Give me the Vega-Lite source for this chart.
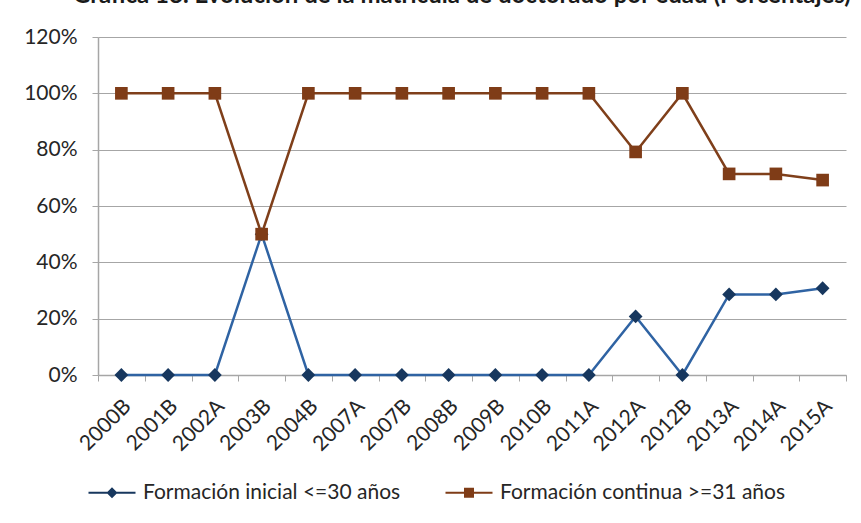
{
  "$schema": "https://vega.github.io/schema/vega-lite/v6.json",
  "width": 748,
  "height": 338,
  "padding": {"left": 98, "top": 37, "right": 15, "bottom": 148},
  "autosize": {"type": "none"},
  "background": "white",
  "title": {
    "text": "Gráfica 18. Evolución de la matrícula de doctorado por edad (Porcentajes)",
    "font": "Lato",
    "fontSize": 24,
    "fontWeight": "bold",
    "color": "#1a1a1a",
    "anchor": "middle",
    "offset": 0,
    "dy": -18,
    "dx": -10
  },
  "data": {
    "values": [
      {"periodo": "2000B", "serie": "Formación inicial <=30 años", "valor": 0},
      {"periodo": "2001B", "serie": "Formación inicial <=30 años", "valor": 0},
      {"periodo": "2002A", "serie": "Formación inicial <=30 años", "valor": 0},
      {"periodo": "2003B", "serie": "Formación inicial <=30 años", "valor": 0.5},
      {"periodo": "2004B", "serie": "Formación inicial <=30 años", "valor": 0},
      {"periodo": "2007A", "serie": "Formación inicial <=30 años", "valor": 0},
      {"periodo": "2007B", "serie": "Formación inicial <=30 años", "valor": 0},
      {"periodo": "2008B", "serie": "Formación inicial <=30 años", "valor": 0},
      {"periodo": "2009B", "serie": "Formación inicial <=30 años", "valor": 0},
      {"periodo": "2010B", "serie": "Formación inicial <=30 años", "valor": 0},
      {"periodo": "2011A", "serie": "Formación inicial <=30 años", "valor": 0},
      {"periodo": "2012A", "serie": "Formación inicial <=30 años", "valor": 0.208},
      {"periodo": "2012B", "serie": "Formación inicial <=30 años", "valor": 0},
      {"periodo": "2013A", "serie": "Formación inicial <=30 años", "valor": 0.286},
      {"periodo": "2014A", "serie": "Formación inicial <=30 años", "valor": 0.286},
      {"periodo": "2015A", "serie": "Formación inicial <=30 años", "valor": 0.308},
      {"periodo": "2000B", "serie": "Formación continua >=31 años", "valor": 1},
      {"periodo": "2001B", "serie": "Formación continua >=31 años", "valor": 1},
      {"periodo": "2002A", "serie": "Formación continua >=31 años", "valor": 1},
      {"periodo": "2003B", "serie": "Formación continua >=31 años", "valor": 0.5},
      {"periodo": "2004B", "serie": "Formación continua >=31 años", "valor": 1},
      {"periodo": "2007A", "serie": "Formación continua >=31 años", "valor": 1},
      {"periodo": "2007B", "serie": "Formación continua >=31 años", "valor": 1},
      {"periodo": "2008B", "serie": "Formación continua >=31 años", "valor": 1},
      {"periodo": "2009B", "serie": "Formación continua >=31 años", "valor": 1},
      {"periodo": "2010B", "serie": "Formación continua >=31 años", "valor": 1},
      {"periodo": "2011A", "serie": "Formación continua >=31 años", "valor": 1},
      {"periodo": "2012A", "serie": "Formación continua >=31 años", "valor": 0.792},
      {"periodo": "2012B", "serie": "Formación continua >=31 años", "valor": 1},
      {"periodo": "2013A", "serie": "Formación continua >=31 años", "valor": 0.714},
      {"periodo": "2014A", "serie": "Formación continua >=31 años", "valor": 0.714},
      {"periodo": "2015A", "serie": "Formación continua >=31 años", "valor": 0.692}
    ]
  },
  "encoding": {
    "x": {
      "field": "periodo",
      "type": "ordinal",
      "sort": null,
      "title": null,
      "scale": {"paddingInner": 0, "paddingOuter": 0},
      "axis": {
        "labelAngle": -45,
        "labelAlign": "right",
        "labelBaseline": "middle",
        "labelFont": "Lato",
        "labelFontSize": 21,
        "labelColor": "#262626",
        "labelPadding": 22,
        "labelOffset": 6,
        "tickBand": "extent",
        "tickSize": 6,
        "tickColor": "#A6A6A6",
        "domainColor": "#A6A6A6",
        "domainWidth": 1.5,
        "grid": false
      }
    },
    "y": {
      "field": "valor",
      "type": "quantitative",
      "title": null,
      "scale": {"domain": [0, 1.2], "nice": false},
      "axis": {
        "values": [0, 0.2, 0.4, 0.6, 0.8, 1, 1.2],
        "format": ".0%",
        "labelFont": "Lato",
        "labelFontSize": 21,
        "labelColor": "#262626",
        "labelPadding": 15,
        "tickSize": 6,
        "tickColor": "#A6A6A6",
        "domainColor": "#A6A6A6",
        "domainWidth": 1.5,
        "gridColor": "#A6A6A6",
        "gridWidth": 1
      }
    }
  },
  "layer": [
    {
      "mark": {"type": "line", "strokeWidth": 2.5},
      "encoding": {
        "stroke": {
          "field": "serie",
          "type": "nominal",
          "sort": ["Formación inicial <=30 años", "Formación continua >=31 años"],
          "scale": {
            "domain": ["Formación inicial <=30 años", "Formación continua >=31 años"],
            "range": ["#2F63A3", "#7F3F1A"]
          },
          "legend": {
            "orient": "bottom",
            "direction": "horizontal",
            "title": null,
            "offset": 27,
            "labelFont": "Lato",
            "labelFontSize": 21,
            "labelColor": "#262626",
            "labelLimit": 500,
            "symbolSize": 100,
            "symbolStrokeWidth": 0,
            "columnPadding": 44,
            "labelOffset": 24,
            "symbolType": "M-4.7,-0.2H4.7V0.2H-4.7Z M0,-1.1L1.1,0L0,1.1L-1.1,0Z",
            "encode": {
              "symbols": {
                "update": {
                  "shape": {"signal": "datum.value == 'Formación inicial <=30 años' ? 'M-4.7,-0.2H4.7V0.2H-4.7Z M0,-1.1L1.1,0L0,1.1L-1.1,0Z' : 'M-4.7,-0.2H4.7V0.2H-4.7Z M-1,-1H1V1H-1Z'"},
                  "fill": {"signal": "datum.value == 'Formación inicial <=30 años' ? '#17375E' : '#7F3C17'"},
                  "strokeWidth": {"value": 0},
                  "opacity": {"value": 1},
                  "xc": {"value": 14}
                }
              }
            }
          }
        }
      }
    },
    {
      "transform": [{"filter": "datum.serie == 'Formación inicial <=30 años'"}],
      "mark": {"type": "point", "filled": true, "opacity": 1, "shape": "diamond", "size": 190, "color": "#17375E"}
    },
    {
      "transform": [{"filter": "datum.serie == 'Formación continua >=31 años'"}],
      "mark": {"type": "point", "filled": true, "opacity": 1, "shape": "square", "size": 160, "color": "#7F3C17"}
    }
  ],
  "config": {
    "view": {"stroke": null}
  }
}
